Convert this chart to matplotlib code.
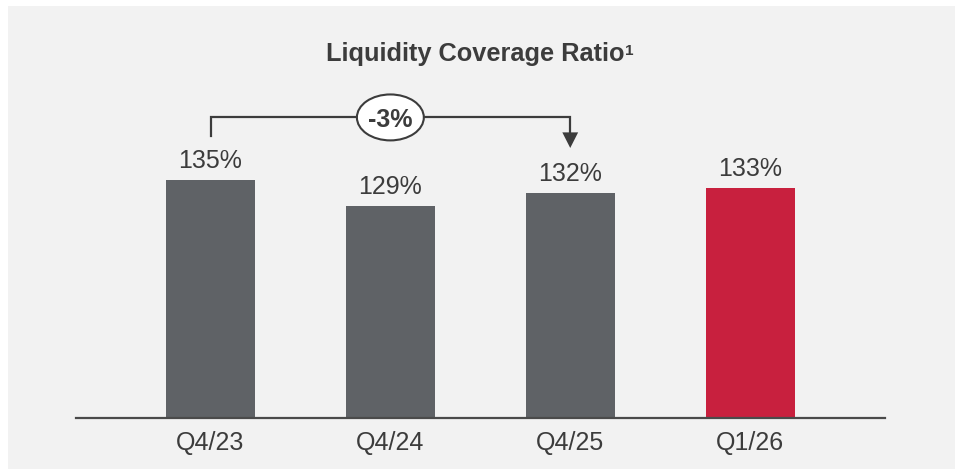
import matplotlib
matplotlib.use("Agg")
import matplotlib.pyplot as plt
from matplotlib.patches import Ellipse, Polygon, Rectangle

# chart data
quarters = ["Q4/23", "Q4/24", "Q4/25", "Q1/26"]
lcr = [135, 129, 132, 133]
bar_colors = ["#5f6266", "#5f6266", "#5f6266", "#c8203e"]
change_label = "-3%"
change_from, change_to = 0, 2

plt.rcParams["font.family"] = ["Liberation Sans", "DejaVu Sans"]
txtc = "#3c3c3c"
W, H = 955, 469

fig = plt.figure(figsize=(W/100, H/100), dpi=100)
fig.patch.set_facecolor("white")
# light grey panel behind the chart
fig.patches.append(Rectangle((8/W, 0), 1 - 8/W, 1 - 6/H,
                             transform=fig.transFigure, facecolor="#f2f2f2",
                             edgecolor="none", zorder=-10))

ax = fig.add_axes([75.6/W, 1 - 418/H, (885 - 75.6)/W, (418 - 60)/H])
ax.set_facecolor("none")
x = list(range(len(quarters)))
ax.bar(x, lcr, width=0.495, color=bar_colors, zorder=2)
ax.set_xlim(-0.75, 3.75)
ax.set_ylim(80, 162.6)

for xi, v in zip(x, lcr):
    ax.annotate(f"{v}%", (xi, v), xytext=(0, 8.5), textcoords="offset points",
                ha="center", va="baseline", fontsize=18, color=txtc)

ax.set_xticks(x)
ax.set_xticklabels(quarters, fontsize=18, color=txtc)
ax.tick_params(axis="x", length=0, pad=9)
ax.set_yticks([])
for s in ["top", "left", "right"]:
    ax.spines[s].set_visible(False)
ax.spines["bottom"].set_color("#4a4a4a")
ax.spines["bottom"].set_linewidth(1.6)
ax.spines["bottom"].set_zorder(3)

# bracket with change bubble
lc = "#3c3c3c"
yb = 149.35
ax.plot([change_from, change_from, change_to, change_to],
        [145.1, yb, yb, 145.9], color=lc, lw=1.6, zorder=3,
        solid_joinstyle="miter")
ax.add_patch(Polygon([[change_to - 0.044, 145.9], [change_to + 0.044, 145.9],
                      [change_to, 142.3]], closed=True, facecolor=lc,
                     edgecolor="none", zorder=3))
mid = (change_from + change_to) / 2
ax.add_patch(Ellipse((mid, yb), 0.372, 10.6, facecolor="white",
                     edgecolor=lc, lw=1.5, zorder=4))
ax.text(mid, yb, change_label, ha="center", va="center_baseline",
        fontsize=18, fontweight="bold", color=txtc, zorder=5)

title = fig.text(475/W, 1 - 61.5/H, "Liquidity Coverage Ratio", ha="center",
                 va="baseline", fontsize=18.3, fontweight="bold", color=txtc)
# superscript footnote mark next to the title
bb = title.get_window_extent(fig.canvas.get_renderer())
fig.text((bb.x1 + 0.5)/W, 1 - 55/H, "1", ha="left", va="baseline",
         fontsize=11, fontweight="bold", color=txtc)

fig.savefig("out.png", dpi=100, facecolor=fig.get_facecolor())
